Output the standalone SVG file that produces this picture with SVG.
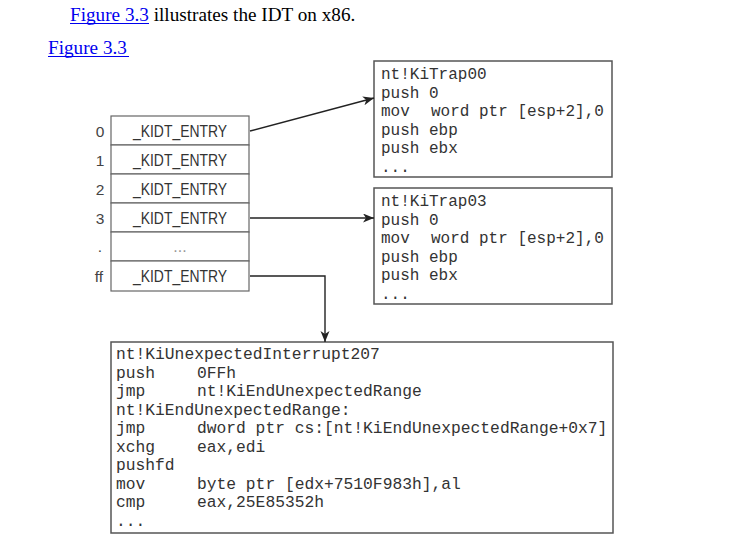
<svg xmlns="http://www.w3.org/2000/svg" width="730" height="537" viewBox="0 0 730 537">
<style>
.hdr{font-family:"Liberation Serif","Times New Roman",serif;font-size:19.2px;fill:#000}
.lnk{fill:#0000ee}
.ul{stroke:#0000ee;stroke-width:1}
.cell{fill:#fff;stroke:#666;stroke-width:1.2}
.ent{font-family:"Liberation Sans",Arial,sans-serif;font-size:16px;fill:#333;text-anchor:middle}
.idx{font-family:"Liberation Sans",Arial,sans-serif;font-size:15.5px;fill:#444;text-anchor:middle}
.box{fill:#fff;stroke:#555;stroke-width:1.5}
.code{font-family:"Liberation Mono","Courier New",monospace;font-size:16px;fill:#333}
.big{font-size:16.3px}
.con{fill:none;stroke:#222;stroke-width:1.4}
</style>
<defs>
<marker id="ah" markerWidth="12" markerHeight="10" refX="11" refY="4.5" orient="auto" markerUnits="userSpaceOnUse">
<path d="M0,0 L11,4.5 L0,9 L3,4.5 z" fill="#222"/>
</marker>
</defs>
<rect width="730" height="537" fill="#fff"/>
<g id="header">
<text class="hdr" x="70" y="21"><tspan class="lnk">Figure 3.3</tspan> illustrates the IDT on x86.</text>
<line class="ul" x1="70" y1="23.5" x2="149" y2="23.5"/>
<text class="hdr lnk" x="48" y="54">Figure 3.3</text>
<line class="ul" x1="48" y1="56.5" x2="129" y2="56.5"/>
</g>
<g id="idt">
<rect class="cell" x="111" y="116" width="138" height="29"/>
<rect class="cell" x="111" y="145" width="138" height="29"/>
<rect class="cell" x="111" y="174" width="138" height="29"/>
<rect class="cell" x="111" y="203" width="138" height="29"/>
<rect class="cell" x="111" y="232" width="138" height="29"/>
<rect class="cell" x="111" y="261" width="138" height="30"/>
<text class="ent" x="180" y="136.5" textLength="94" lengthAdjust="spacingAndGlyphs">_KIDT_ENTRY</text>
<text class="ent" x="180" y="165.5" textLength="94" lengthAdjust="spacingAndGlyphs">_KIDT_ENTRY</text>
<text class="ent" x="180" y="194.5" textLength="94" lengthAdjust="spacingAndGlyphs">_KIDT_ENTRY</text>
<text class="ent" x="180" y="223.5" textLength="94" lengthAdjust="spacingAndGlyphs">_KIDT_ENTRY</text>
<text class="ent" x="180" y="252" style="fill:#999">...</text>
<text class="ent" x="180" y="281.5" textLength="94" lengthAdjust="spacingAndGlyphs">_KIDT_ENTRY</text>
<text class="idx" x="100" y="136.5">0</text>
<text class="idx" x="100" y="165.5">1</text>
<text class="idx" x="100" y="194.5">2</text>
<text class="idx" x="100" y="223.5">3</text>
<text class="idx" x="100" y="252">.</text>
<text class="idx" x="99" y="281.5">ff</text>
</g>
<g id="kitrap00">
<rect class="box" x="374" y="61" width="238" height="116"/>
<text class="code" x="381" y="79">nt!KiTrap00</text>
<text class="code" x="381" y="97.5">push 0</text>
<text class="code" x="381" y="116">mov<tspan x="431">word ptr [esp+2],0</tspan></text>
<text class="code" x="381" y="134.5">push ebp</text>
<text class="code" x="381" y="153">push ebx</text>
<text class="code" x="381" y="171.5">...</text>
</g>
<g id="kitrap03">
<rect class="box" x="374" y="188" width="238" height="116"/>
<text class="code" x="381" y="206">nt!KiTrap03</text>
<text class="code" x="381" y="224.5">push 0</text>
<text class="code" x="381" y="243">mov<tspan x="431">word ptr [esp+2],0</tspan></text>
<text class="code" x="381" y="261.5">push ebp</text>
<text class="code" x="381" y="280">push ebx</text>
<text class="code" x="381" y="298.5">...</text>
</g>
<g id="unexpected">
<rect class="box" x="111" y="342" width="502" height="191"/>
<text class="code big" x="116" y="359">nt!KiUnexpectedInterrupt207</text>
<text class="code big" x="116" y="377.5">push<tspan x="197">0FFh</tspan></text>
<text class="code big" x="116" y="396">jmp<tspan x="197">nt!KiEndUnexpectedRange</tspan></text>
<text class="code big" x="116" y="414.5">nt!KiEndUnexpectedRange:</text>
<text class="code big" x="116" y="433">jmp<tspan x="197">dword ptr cs:[nt!KiEndUnexpectedRange+0x7]</tspan></text>
<text class="code big" x="116" y="451.5">xchg<tspan x="197">eax,edi</tspan></text>
<text class="code big" x="116" y="470">pushfd</text>
<text class="code big" x="116" y="488.5">mov<tspan x="197">byte ptr [edx+7510F983h],al</tspan></text>
<text class="code big" x="116" y="507">cmp<tspan x="197">eax,25E85352h</tspan></text>
<text class="code big" x="116" y="525.5">...</text>
</g>
<g id="connectors">
<path class="con" d="M250,131 L374,98" marker-end="url(#ah)"/>
<path class="con" d="M250,218 L374,218" marker-end="url(#ah)"/>
<path class="con" d="M250,276 L325,276 L325,342" marker-end="url(#ah)"/>
</g>
</svg>
